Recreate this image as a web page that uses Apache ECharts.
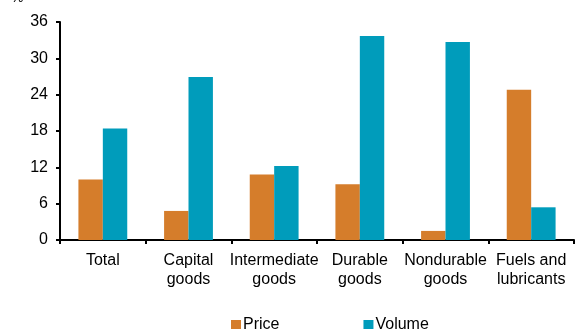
<!DOCTYPE html>
<html><head><meta charset="utf-8">
<script src="https://cdn.jsdelivr.net/npm/echarts@6/dist/echarts.min.js"></script>
<style>html,body{margin:0;padding:0;background:#fff}#c{width:575px;height:329px}</style>
</head><body><div id="c"></div>
<script>
var categories = ['Total', 'Capital\ngoods', 'Intermediate\ngoods', 'Durable\ngoods', 'Nondurable\ngoods', 'Fuels and\nlubricants'];
var priceValues = [10.0, 4.8, 10.8, 9.2, 1.5, 24.8];
var volumeValues = [18.4, 26.9, 12.2, 33.7, 32.7, 5.4];
var yTicks = [0, 6, 12, 18, 24, 30, 36];
var seriesNames = ['Price', 'Volume'];

var chart = echarts.init(document.getElementById('c'));
var font = 'Liberation Sans, Arial, sans-serif';
chart.setOption({
  animation: false,
  textStyle: {fontFamily: font},
  graphic: [{type: 'text', left: 11, top: -9, style: {text: '%', font: '14px ' + font, fill: '#000'}}],
  grid: {left: 60, right: 1, top: 22, bottom: 89},
  legend: {
    data: seriesNames, left: 226, top: 312, itemWidth: 10, itemHeight: 10, itemGap: 84,
    icon: 'rect', textStyle: {fontSize: 16, color: '#000', fontFamily: font, padding: [0, 0, 0, -3]}
  },
  xAxis: {
    type: 'category', data: categories,
    axisLine: {lineStyle: {color: '#000', width: 2}},
    axisTick: {show: true, length: 4, lineStyle: {color: '#000', width: 2}, alignWithLabel: false},
    axisLabel: {color: '#000', fontSize: 16, lineHeight: 19, margin: 11, interval: 0, fontFamily: font}
  },
  yAxis: {
    type: 'value', min: 0, max: 36, interval: 6,
    axisLine: {show: true, lineStyle: {color: '#000', width: 2}},
    axisTick: {show: true, length: 4, lineStyle: {color: '#000', width: 2}},
    splitLine: {show: false},
    axisLabel: {color: '#000', fontSize: 16, margin: 12, fontFamily: font,
      formatter: function (v) { return yTicks.indexOf(v) >= 0 ? String(v) : ''; }}
  },
  series: [
    {name: seriesNames[0], type: 'bar', data: priceValues, barGap: '0%', barCategoryGap: '43%',
      itemStyle: {color: '#D57D2B'}},
    {name: seriesNames[1], type: 'bar', data: volumeValues, barGap: '0%', barCategoryGap: '43%',
      itemStyle: {color: '#009CBB'}}
  ]
});
</script></body></html>
